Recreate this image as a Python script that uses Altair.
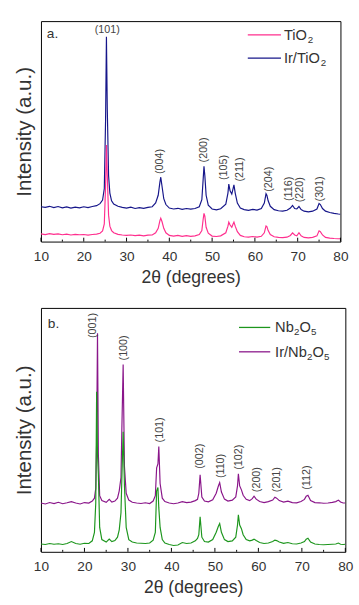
import altair as alt
import pandas as pd

FONT = "Liberation Sans"
TXT = "#333333"

# ---------------- Panel a : TiO2 / Ir-TiO2 ----------------
TI_X = [10, 11, 12, 13, 14, 15, 16, 17, 18, 19, 20, 21, 22, 23,
        23.8, 24.4, 24.8, 25.1, 25.3, 25.5, 25.8, 26.1, 26.5, 27,
        28, 29, 30, 31, 32, 33, 34, 35, 36,
        36.8, 37.4, 37.8, 38.0, 38.3, 38.7, 39.2,
        40, 41, 42, 43, 44, 45, 46, 47,
        47.6, 47.9, 48.1, 48.3, 48.6, 49.1,
        50, 51, 52,
        53.2, 53.7, 53.9, 54.2, 54.6, 54.9, 55.1, 55.4, 55.9, 56.6,
        57.5, 58.5, 59.5, 60.5, 61.5,
        62.2, 62.6, 62.8, 63.1, 63.6,
        64.5, 65.5, 66.5, 67.5,
        68.3, 68.8, 69.3, 69.8, 70.3, 70.8,
        71.5, 72.5, 73.5,
        74.5, 75.0, 75.3, 75.8,
        76.5, 77.5, 78.5, 79.5, 80]

IR_TI_Y = [15.8, 15.5, 16.0, 15.4, 15.9, 15.3, 15.7, 15.2, 15.6, 15.3, 15.8, 15.4, 15.9, 16.3,
           17.2, 18.8, 24, 55, 92.9, 60, 30, 22, 18.5, 17.0,
           16.0, 15.5, 15.2, 15.6, 15.0, 15.4, 15.1, 15.5, 15.8,
           17.5, 21, 27, 29.2, 25, 19.5, 16.8,
           15.2, 14.8, 15.1, 14.6, 15.0, 14.7, 15.0, 15.8,
           19, 28, 34.1, 30, 21, 16.5,
           14.8, 14.4, 14.9,
           17, 22, 26.1, 23, 21.5, 24, 25.7, 22, 17.5, 15.2,
           14.5, 14.2, 14.6, 14.3, 15,
           17.5, 21.7, 21, 18.5, 16,
           14.5, 14.0, 13.8, 14.2,
           15.2, 16.4, 15.0, 14.8, 15.9, 14.5,
           13.8, 13.5, 13.8,
           14.8, 17.3, 16.8, 15,
           13.8, 13.2, 12.8, 12.5, 12.4]

TI_Y = [3.5, 3.2, 3.6, 3.3, 3.5, 3.1, 3.4, 3.0, 3.3, 3.1, 3.2, 2.9, 3.2, 3.4,
        3.8, 4.8, 8, 25, 43.8, 30, 12, 7, 5, 4,
        3.3, 3.0, 2.8, 3.0, 2.7, 2.9, 2.6, 2.9, 3.0,
        4, 6, 9.5, 10.6, 9, 6, 4,
        2.8, 2.5, 2.8, 2.4, 2.7, 2.4, 2.6, 3.2,
        5, 10, 12.8, 11.5, 6.5, 3.8,
        2.5, 2.3, 2.6,
        4, 7, 8.8, 7.5, 6.5, 8, 8.8, 7, 4.5, 2.8,
        2.2, 2.0, 2.3, 2.0, 2.4,
        4, 7.1, 6.8, 5, 3.2,
        2.2, 1.9, 1.8, 2.0,
        2.8, 4.0, 3.0, 2.6, 4.0, 2.6,
        1.9, 1.7, 1.9,
        2.6, 4.9, 4.5, 3,
        1.9, 1.6, 1.4, 1.3, 1.3]

A_LBL = ["(004)", "(200)", "(105)", "(211)", "(204)", "(116)", "(220)", "(301)"]
A_LBL_X = [37.8, 48.1, 52.9, 56.5, 63.4, 67.9, 70.6, 75.2]
A_LBL_Y = [36.3, 41.6, 33.6, 32.7, 28.3, 23.9, 23.5, 23.9]
A_TOP_LBL = ["(101)"]
A_TOP_X = [25.5]
A_TOP_Y = [96]

# ---------------- Panel b : Nb2O5 / Ir-Nb2O5 ----------------
NB_X = [10, 11, 12, 13, 14, 15, 16, 17, 18, 19, 20, 21,
        21.8, 22.3, 22.6, 22.8, 23.0, 23.2, 23.5, 24,
        25, 25.7, 26.3, 27,
        27.6, 28.0, 28.4, 28.6, 28.9, 29.2, 29.6, 30.2,
        31, 32, 33, 34, 35,
        35.8, 36.3, 36.6, 36.9, 37.1, 37.4, 37.9, 38.5,
        39.5, 40.5, 41.5, 42.5, 43.5, 44.5, 45.5,
        46.0, 46.3, 46.6, 47.0, 47.6,
        48.5, 49.5, 50.3, 50.8, 51.1, 51.5, 52.2,
        53, 54, 54.8, 55.2, 55.4, 55.7, 56.1, 56.5, 57.2,
        58, 58.6, 59.0, 59.5, 60.3,
        61.3, 62.3, 63.3, 63.8, 64.2, 64.8,
        65.8, 66.8, 67.8, 68.8, 69.8,
        70.6, 71.0, 71.4, 72.0,
        73, 74, 75, 76, 77,
        77.8, 78.4, 78.9, 79.5, 80]

IR_NB_Y = [20.0, 19.6, 20.2, 19.8, 20.3, 19.7, 20.1, 20.6, 20.0, 19.6, 20.2, 20.0,
           20.8, 22, 26, 45, 89.6, 40, 23, 21,
           20.3, 21.5, 20.4, 20.8,
           22, 25, 30.4, 50, 76.8, 35, 24, 21.2,
           20.3, 20.0, 19.8, 20.1, 19.8,
           20.8, 23, 34.4, 36, 43.2, 28, 22, 20.6,
           20.0, 19.7, 20.0, 20.6, 20.2, 20.4, 21,
           21.5, 24, 31.6, 22.5, 20.8,
           20.5, 21.3, 24, 27, 28.4, 24.5, 21.6,
           20.8, 21.2, 22.5, 27, 32, 27, 25.4, 23.2, 21.5,
           21, 21.8, 22.8, 21.6, 20.6,
           20.2, 20.6, 21.2, 22.4, 22.0, 21,
           20.4, 20.8, 20.2, 20.1, 20.6,
           21.5, 22.8, 23.2, 21,
           20.2, 20.1, 19.9, 20.0, 20.3,
           20.6, 21.2, 20.4, 20.0, 20.0]

NB_Y = [3.2, 3.0, 3.4, 3.1, 3.3, 3.0, 3.4, 4.2, 3.4, 3.1, 3.5, 3.4,
        4.5, 8, 20, 65.6, 40, 31.6, 10, 5,
        4.0, 5.2, 4.2, 4.6,
        6, 9, 16, 30, 49.2, 27, 10, 5,
        4, 3.6, 3.5, 3.4, 3.6,
        4.8, 8, 25, 26.4, 18, 10, 5, 3.6,
        3.0, 2.6, 2.8, 3.8, 3.4, 3.6, 4.5,
        5.5, 7, 14.4, 6, 4.2,
        4, 5, 8, 10.5, 11.6, 8, 5,
        4.2, 4.5, 6, 11, 15.2, 11, 9.5, 7, 5,
        4.5, 4.8, 5.2, 4.6, 3.8,
        3.4, 3.6, 4.2, 4.8, 4.6, 4,
        3.5, 3.8, 3.3, 3.2, 3.6,
        4.2, 5.2, 5.6, 4,
        3.2, 3.0, 2.9, 3.0, 3.1,
        3.2, 3.6, 3.1, 3.0, 3.1]

B_LBL = ["(001)", "(100)", "(101)", "(002)", "(110)", "(102)", "(200)", "(201)", "(112)"]
B_LBL_X = [21.9, 29.1, 37.4, 46.6, 51.5, 55.5, 59.8, 64.3, 71.3]
B_LBL_Y = [92.8, 83.6, 50.0, 39.2, 35.2, 38.8, 29.6, 29.6, 30.4]

X_TICKS = [10, 20, 30, 40, 50, 60, 70, 80]
X_MINOR = [15, 25, 35, 45, 55, 65, 75]

PINK = "#ff2f8e"
NAVY = "#16168a"
GREEN = "#1d961d"
PURPLE = "#8a168a"

XAXIS = alt.Axis(values=X_TICKS, ticks=False, domain=False, grid=False,
                 labelFontSize=14, labelColor=TXT, labelPadding=8, labelFlush=False,
                 format="d", title="2θ (degrees)", titleFontSize=18,
                 titleFontWeight="normal", titleColor=TXT, titlePadding=6)
YAXIS = alt.Axis(labels=False, ticks=False, domain=False, grid=False,
                 title="Intensity (a.u.)", titleFontSize=21, titleFontWeight="normal",
                 titleColor=TXT, titlePadding=7)


def X(field):
    return alt.X(f"{field}:Q", scale=alt.Scale(domain=[10, 80], nice=False, zero=False), axis=XAXIS)


def Y(field):
    return alt.Y(f"{field}:Q", scale=alt.Scale(domain=[0, 100], nice=False, zero=False), axis=YAXIS)


def line(xs, ys, color):
    df = pd.DataFrame({"x": xs, "y": ys})
    return alt.Chart(df).mark_line(color=color, strokeWidth=1.2, clip=True).encode(x=X("x"), y=Y("y"))


def ticks(h):
    maj = alt.Chart(pd.DataFrame({"t": X_TICKS})).mark_rule(color="black", strokeWidth=1).encode(
        x=X("t"), y=alt.value(h), y2=alt.value(h - 4))
    mnr = alt.Chart(pd.DataFrame({"t": X_MINOR})).mark_rule(color="black", strokeWidth=1).encode(
        x=X("t"), y=alt.value(h), y2=alt.value(h - 2))
    return [maj, mnr]


def labels(lbl, xs, ys, angle):
    df = pd.DataFrame({"l": lbl, "x": xs, "y": ys})
    return alt.Chart(df).mark_text(font=FONT, fontSize=11, color="#444444", angle=angle,
                                   align="center", baseline="middle").encode(
        x=X("x"), y=Y("y"), text="l:N")


ONE = pd.DataFrame({"d": [0]})


def legline(x1, x2, y, color):
    return alt.Chart(ONE).mark_rule(color=color, strokeWidth=1.3).encode(
        x=alt.value(x1), x2=alt.value(x2), y=alt.value(y))


def txt(s, x, y, size):
    return alt.Chart(ONE).mark_text(font=FONT, fontSize=size, color=TXT, align="left",
                                    baseline="middle", text=s).encode(
        x=alt.value(x), y=alt.value(y))


WA, HA = 307, 226
WB, HB = 312, 250

panel_a = alt.layer(
    line(TI_X, IR_TI_Y, NAVY),
    line(TI_X, TI_Y, PINK),
    *ticks(HA),
    labels(A_LBL, A_LBL_X, A_LBL_Y, 270),
    labels(A_TOP_LBL, A_TOP_X, A_TOP_Y, 0),
    legline(212, 246, 14, PINK),
    legline(212, 246, 38, NAVY),
    txt("TiO", 249, 14, 15), txt("2", 273.5, 19, 10),
    txt("Ir/TiO", 249, 38, 15), txt("2", 286.8, 43, 10),
    txt("a.", 6, 13, 14),
).properties(width=WA, height=HA)

panel_b = alt.layer(
    line(NB_X, IR_NB_Y, PURPLE),
    line(NB_X, NB_Y, GREEN),
    *ticks(HB),
    labels(B_LBL, B_LBL_X, B_LBL_Y, 270),
    legline(203, 235, 20, GREEN),
    legline(203, 235, 45, PURPLE),
    txt("Nb", 240, 20, 15), txt("2", 259.3, 25, 10), txt("O", 265, 20, 15), txt("5", 276.8, 25, 10),
    txt("Ir/Nb", 240, 45, 15), txt("2", 272.7, 50, 10), txt("O", 278.4, 45, 15), txt("5", 290.2, 50, 10),
    txt("b.", 7, 17, 14),
).properties(width=WB, height=HB)

chart = alt.vconcat(panel_a, panel_b, spacing=20).properties(
    padding={"left": 13, "top": 13, "right": 5, "bottom": 5}
).configure(font=FONT).configure_view(stroke="black", strokeWidth=1)

chart.save("out.html", embed_options={"renderer": "svg", "actions": False})
